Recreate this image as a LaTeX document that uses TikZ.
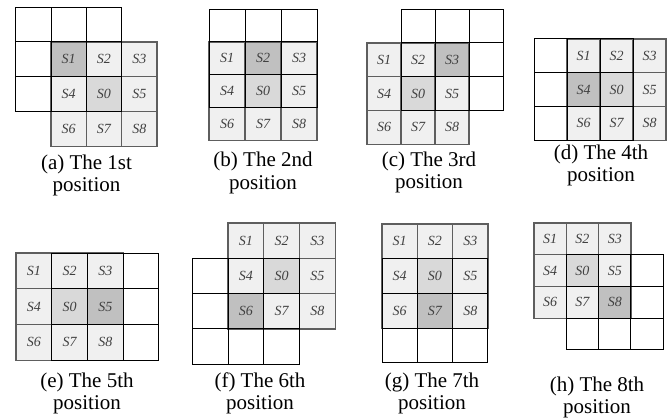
\documentclass[tikz,border=0pt]{standalone}
\usepackage{fontspec}
\setmainfont{Liberation Serif}
\definecolor{cellbg}{HTML}{F0F0F0}
\definecolor{zerobg}{HTML}{D9D9D9}
\definecolor{hibg}{HTML}{C0C0C0}
\definecolor{sline}{HTML}{5E5E5E}
\definecolor{stext}{HTML}{404040}
\tikzset{
  scell/.style={draw=sline, line width=1.2pt, inner sep=0pt, text=stext,
    font=\fontsize{14}{16}\selectfont\itshape},
  wline/.style={draw=black, line width=1pt},
  captext/.style={align=center, inner sep=0pt, font=\fontsize{21}{22.4}\selectfont}
}
\newcommand{\gridpanel}[8]{%
  \begin{scope}[shift={(#2,#3)}]
    \foreach \lab [count=\i from 0] in {1,2,3,4,0,5,6,7,8} {
      \pgfmathtruncatemacro{\rr}{int(\i/3)}
      \pgfmathtruncatemacro{\cc}{mod(\i,3)}
      \ifnum\lab=#8 \def\fillc{hibg}\else\ifnum\lab=0 \def\fillc{zerobg}\else\def\fillc{cellbg}\fi\fi
      \node[scell, fill=\fillc, minimum width=#4pt, minimum height=#5pt]
        (#1-S\lab) at ({(\cc+0.5)*#4},{(\rr+0.5)*#5}) {S\lab};
    }
    \foreach \ii in {0,1,2}
      \foreach \jj in {0,1,2}
        \draw[wline] ({(#6+\jj)*#4},{(#7+\ii)*#5}) rectangle ++(#4,#5);
  \end{scope}
}
\begin{document}
\begin{tikzpicture}[x=1pt,y=-1pt]
\useasboundingbox[fill=white] (0,0) rectangle (670,420);
\gridpanel{a}{51}{42}{35.3}{34.7}{-1}{-1}{1}
\gridpanel{b}{209}{42}{36}{32.7}{0}{-1}{2}
\gridpanel{c}{367}{43}{34}{33.7}{1}{-1}{3}
\gridpanel{d}{567}{39}{33}{33.7}{-1}{0}{4}
\gridpanel{e}{16}{253}{35.7}{35.7}{1}{0}{5}
\gridpanel{f}{228}{223}{35.7}{35.3}{-1}{1}{6}
\gridpanel{g}{382}{224}{35.3}{34.7}{0}{1}{7}
\gridpanel{h}{534}{223}{32.3}{31.7}{1}{1}{8}
\node[captext] (capa) at (86.5,175.4) {(a) The 1st\\position};
\node[captext] (capb) at (263,173) {(b) The 2nd\\position};
\node[captext] (capc) at (429,172.6) {(c) The 3rd\\position};
\node[captext] (capd) at (601,165.6) {(d) The 4th\\position};
\node[captext] (cape) at (87,393.6) {(e) The 5th\\position};
\node[captext] (capf) at (260,393.6) {(f) The 6th\\position};
\node[captext] (capg) at (432,393.6) {(g) The 7th\\position};
\node[captext] (caph) at (597,397.6) {(h) The 8th\\position};
\end{tikzpicture}
\end{document}
